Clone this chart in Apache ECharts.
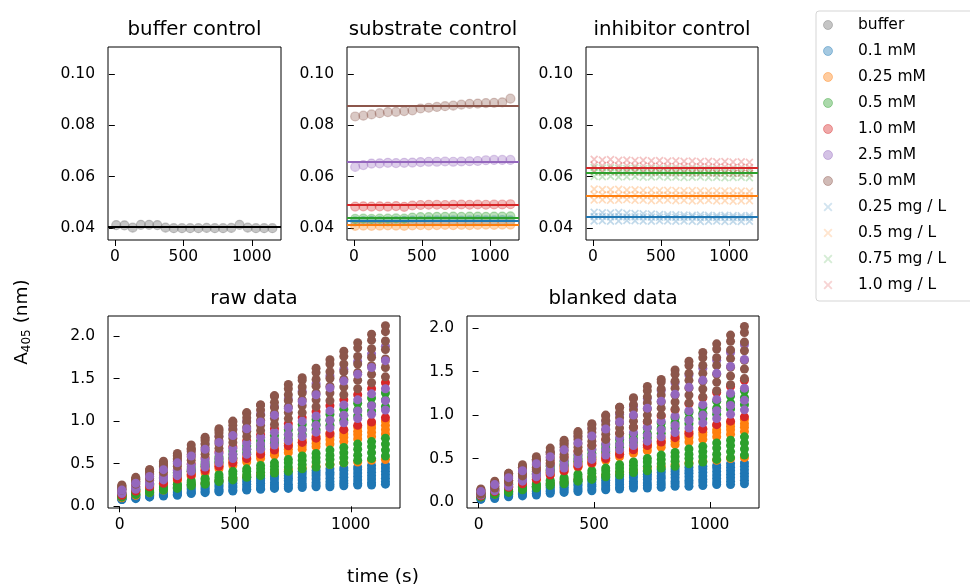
<!DOCTYPE html>
<html>
<head>
<meta charset="utf-8">
<script src="https://cdn.jsdelivr.net/npm/echarts@6/dist/echarts.min.js"></script>
<style>
  html, body { margin: 0; padding: 0; background: #fff; }
  #chart { width: 970px; height: 588px; }
</style>
</head>
<body>
<div id="chart"></div>
<script>
// ---- sampling times (s) ----
const times = [10, 70, 130, 190, 250, 310, 370, 430, 490, 550, 610, 670, 730, 790, 850, 910, 970, 1030, 1090, 1150];

// ---- tick labels ----
const xTicks = [0, 500, 1000];
const yTicksControl = [0.04, 0.06, 0.08, 0.10];
const yTicksKinetic = [0.0, 0.5, 1.0, 1.5, 2.0];

// ---- legend labels ----
const bufferLabel = 'buffer';
const substrateLabels = ['0.1 mM', '0.25 mM', '0.5 mM', '1.0 mM', '2.5 mM', '5.0 mM'];
const inhibitorLabels = ['0.25 mg / L', '0.5 mg / L', '0.75 mg / L', '1.0 mg / L'];

// ---- buffer control ----
const bufferControl = [0.0412, 0.0411, 0.0402, 0.0413, 0.0413, 0.0412, 0.0402, 0.0400, 0.0400, 0.0400, 0.0400, 0.0401, 0.0400, 0.0400, 0.0401, 0.0413, 0.0402, 0.0400, 0.0400, 0.0400];
const bufferMean = 0.0407;

// ---- substrate controls (one per substrate concentration) ----
const subCtrl01 = [0.0426, 0.0427, 0.0428, 0.0427, 0.0426, 0.0427, 0.0428, 0.0429, 0.0428, 0.0429, 0.0430, 0.0429, 0.0430, 0.0429, 0.0430, 0.0431, 0.0430, 0.0430, 0.0431, 0.0430];
const subCtrl025 = [0.0409, 0.0410, 0.0409, 0.0410, 0.0411, 0.0410, 0.0409, 0.0411, 0.0412, 0.0411, 0.0412, 0.0413, 0.0412, 0.0413, 0.0412, 0.0413, 0.0414, 0.0413, 0.0414, 0.0414];
const subCtrl05 = [0.0436, 0.0437, 0.0436, 0.0437, 0.0437, 0.0438, 0.0437, 0.0441, 0.0443, 0.0443, 0.0444, 0.0444, 0.0445, 0.0444, 0.0445, 0.0445, 0.0444, 0.0445, 0.0445, 0.0446];
const subCtrl10 = [0.0484, 0.0485, 0.0484, 0.0485, 0.0484, 0.0486, 0.0483, 0.0488, 0.0490, 0.0491, 0.0491, 0.0490, 0.0491, 0.0492, 0.0491, 0.0492, 0.0491, 0.0492, 0.0492, 0.0493];
const subCtrl25 = [0.0638, 0.0645, 0.0651, 0.0652, 0.0654, 0.0653, 0.0654, 0.0655, 0.0657, 0.0658, 0.0658, 0.0659, 0.0658, 0.0659, 0.0660, 0.0661, 0.0664, 0.0665, 0.0665, 0.0665];
const subCtrl50 = [0.0834, 0.0837, 0.0842, 0.0847, 0.0851, 0.0852, 0.0855, 0.0858, 0.0865, 0.0868, 0.0871, 0.0874, 0.0876, 0.0880, 0.0883, 0.0884, 0.0886, 0.0887, 0.0889, 0.0903];
const substrateMeans = [0.0430, 0.0413, 0.0439, 0.0490, 0.0658, 0.0877];

// ---- inhibitor controls (three replicate wells each) ----
const inhCtrl025 = [
  [0.0462, 0.0460, 0.0459, 0.0461, 0.0458, 0.0457, 0.0456, 0.0455, 0.0453, 0.0452, 0.0452, 0.0451, 0.0450, 0.0451, 0.0450, 0.0449, 0.0450, 0.0449, 0.0448, 0.0449],
  [0.0445, 0.0446, 0.0444, 0.0445, 0.0443, 0.0444, 0.0444, 0.0443, 0.0442, 0.0443, 0.0442, 0.0442, 0.0443, 0.0441, 0.0442, 0.0441, 0.0442, 0.0441, 0.0440, 0.0441],
  [0.0428, 0.0429, 0.0427, 0.0428, 0.0430, 0.0429, 0.0428, 0.0427, 0.0429, 0.0428, 0.0427, 0.0428, 0.0427, 0.0426, 0.0427, 0.0428, 0.0426, 0.0427, 0.0426, 0.0427]
];
const inhCtrl05 = [
  [0.0552, 0.0550, 0.0549, 0.0551, 0.0548, 0.0549, 0.0547, 0.0548, 0.0546, 0.0547, 0.0546, 0.0545, 0.0546, 0.0545, 0.0544, 0.0545, 0.0544, 0.0545, 0.0544, 0.0543],
  [0.0530, 0.0529, 0.0531, 0.0528, 0.0529, 0.0530, 0.0528, 0.0527, 0.0529, 0.0528, 0.0527, 0.0528, 0.0526, 0.0527, 0.0528, 0.0526, 0.0527, 0.0526, 0.0527, 0.0526],
  [0.0509, 0.0510, 0.0508, 0.0509, 0.0511, 0.0508, 0.0509, 0.0507, 0.0508, 0.0509, 0.0507, 0.0508, 0.0506, 0.0507, 0.0508, 0.0506, 0.0507, 0.0505, 0.0506, 0.0507]
];
const inhCtrl075 = [
  [0.0636, 0.0634, 0.0635, 0.0633, 0.0632, 0.0634, 0.0631, 0.0632, 0.0630, 0.0631, 0.0630, 0.0629, 0.0630, 0.0628, 0.0629, 0.0628, 0.0627, 0.0628, 0.0627, 0.0626],
  [0.0617, 0.0616, 0.0618, 0.0615, 0.0616, 0.0617, 0.0615, 0.0614, 0.0616, 0.0615, 0.0614, 0.0615, 0.0613, 0.0614, 0.0615, 0.0613, 0.0614, 0.0612, 0.0613, 0.0612],
  [0.0601, 0.0600, 0.0602, 0.0599, 0.0600, 0.0601, 0.0598, 0.0599, 0.0600, 0.0598, 0.0599, 0.0597, 0.0598, 0.0599, 0.0597, 0.0598, 0.0596, 0.0597, 0.0598, 0.0596]
];
const inhCtrl10 = [
  [0.0668, 0.0665, 0.0667, 0.0664, 0.0665, 0.0663, 0.0664, 0.0662, 0.0663, 0.0661, 0.0662, 0.0660, 0.0661, 0.0659, 0.0660, 0.0658, 0.0659, 0.0657, 0.0658, 0.0656],
  [0.0645, 0.0643, 0.0644, 0.0642, 0.0643, 0.0641, 0.0642, 0.0640, 0.0641, 0.0640, 0.0639, 0.0640, 0.0638, 0.0639, 0.0638, 0.0637, 0.0638, 0.0636, 0.0637, 0.0636],
  [0.0622, 0.0620, 0.0621, 0.0619, 0.0620, 0.0618, 0.0619, 0.0617, 0.0618, 0.0617, 0.0616, 0.0617, 0.0615, 0.0616, 0.0615, 0.0614, 0.0615, 0.0613, 0.0614, 0.0613]
];
const inhibitorMeans = [0.0443, 0.0527, 0.0615, 0.0633];

// ---- raw kinetic reads (one row per well) ----
const raw01 = [
  [0.10, 0.13, 0.16, 0.19, 0.22, 0.25, 0.27, 0.30, 0.32, 0.34, 0.36, 0.38, 0.39, 0.41, 0.42, 0.44, 0.45, 0.46, 0.48, 0.49],
  [0.10, 0.12, 0.15, 0.18, 0.21, 0.23, 0.25, 0.28, 0.30, 0.32, 0.33, 0.35, 0.36, 0.38, 0.39, 0.40, 0.42, 0.43, 0.44, 0.45],
  [0.09, 0.12, 0.14, 0.17, 0.19, 0.21, 0.23, 0.25, 0.27, 0.29, 0.30, 0.32, 0.33, 0.34, 0.36, 0.37, 0.38, 0.39, 0.40, 0.41],
  [0.09, 0.11, 0.13, 0.15, 0.17, 0.19, 0.21, 0.23, 0.24, 0.26, 0.27, 0.28, 0.30, 0.31, 0.32, 0.33, 0.34, 0.35, 0.36, 0.37],
  [0.09, 0.10, 0.12, 0.14, 0.16, 0.17, 0.19, 0.20, 0.22, 0.23, 0.24, 0.25, 0.26, 0.27, 0.28, 0.29, 0.30, 0.31, 0.32, 0.33],
  [0.08, 0.10, 0.11, 0.13, 0.14, 0.16, 0.17, 0.18, 0.19, 0.20, 0.21, 0.22, 0.23, 0.24, 0.25, 0.26, 0.27, 0.27, 0.28, 0.29],
  [0.08, 0.09, 0.11, 0.12, 0.13, 0.15, 0.16, 0.17, 0.18, 0.19, 0.20, 0.21, 0.21, 0.22, 0.23, 0.23, 0.24, 0.25, 0.25, 0.26]
];
const raw025 = [
  [0.13, 0.19, 0.25, 0.30, 0.36, 0.41, 0.46, 0.51, 0.56, 0.61, 0.66, 0.70, 0.74, 0.78, 0.82, 0.86, 0.89, 0.93, 0.96, 1.00],
  [0.13, 0.18, 0.24, 0.29, 0.34, 0.39, 0.44, 0.49, 0.54, 0.58, 0.63, 0.67, 0.71, 0.75, 0.78, 0.82, 0.85, 0.88, 0.92, 0.95],
  [0.12, 0.17, 0.22, 0.27, 0.32, 0.37, 0.42, 0.46, 0.51, 0.55, 0.59, 0.63, 0.67, 0.71, 0.74, 0.78, 0.81, 0.84, 0.87, 0.90],
  [0.12, 0.17, 0.21, 0.26, 0.30, 0.35, 0.39, 0.44, 0.48, 0.52, 0.56, 0.60, 0.63, 0.67, 0.70, 0.73, 0.76, 0.79, 0.82, 0.85],
  [0.10, 0.13, 0.16, 0.19, 0.22, 0.25, 0.27, 0.30, 0.33, 0.35, 0.38, 0.40, 0.43, 0.45, 0.47, 0.49, 0.51, 0.52, 0.54, 0.55]
];
const raw05 = [
  [0.15, 0.21, 0.27, 0.34, 0.40, 0.46, 0.52, 0.58, 0.65, 0.71, 0.77, 0.83, 0.90, 0.96, 1.02, 1.08, 1.14, 1.21, 1.27, 1.33],
  [0.14, 0.20, 0.26, 0.32, 0.38, 0.43, 0.49, 0.55, 0.61, 0.67, 0.72, 0.78, 0.84, 0.90, 0.96, 1.01, 1.07, 1.13, 1.19, 1.25],
  [0.14, 0.19, 0.25, 0.30, 0.36, 0.41, 0.47, 0.52, 0.57, 0.63, 0.68, 0.74, 0.79, 0.84, 0.90, 0.95, 1.01, 1.06, 1.12, 1.17],
  [0.12, 0.16, 0.19, 0.23, 0.26, 0.30, 0.33, 0.37, 0.41, 0.44, 0.48, 0.51, 0.55, 0.59, 0.62, 0.66, 0.69, 0.73, 0.76, 0.80],
  [0.12, 0.15, 0.18, 0.22, 0.25, 0.28, 0.31, 0.34, 0.38, 0.41, 0.44, 0.47, 0.51, 0.54, 0.57, 0.60, 0.63, 0.67, 0.70, 0.73],
  [0.11, 0.14, 0.17, 0.20, 0.23, 0.26, 0.28, 0.31, 0.34, 0.37, 0.40, 0.43, 0.46, 0.49, 0.52, 0.55, 0.57, 0.60, 0.63, 0.66],
  [0.11, 0.14, 0.16, 0.19, 0.21, 0.24, 0.26, 0.29, 0.31, 0.34, 0.36, 0.39, 0.41, 0.44, 0.46, 0.49, 0.51, 0.54, 0.56, 0.59]
];
const raw10 = [
  [0.16, 0.23, 0.30, 0.36, 0.43, 0.50, 0.57, 0.64, 0.70, 0.77, 0.84, 0.91, 0.97, 1.04, 1.11, 1.18, 1.25, 1.31, 1.38, 1.45],
  [0.13, 0.18, 0.23, 0.27, 0.32, 0.37, 0.42, 0.47, 0.51, 0.56, 0.61, 0.66, 0.71, 0.75, 0.80, 0.85, 0.90, 0.95, 0.99, 1.04]
];
// last 2.5 mM row is the well that sits inside the 5.0 mM band
const raw25 = [
  [0.20, 0.29, 0.38, 0.47, 0.55, 0.64, 0.73, 0.82, 0.91, 1.00, 1.08, 1.17, 1.26, 1.35, 1.44, 1.53, 1.61, 1.70, 1.79, 1.88],
  [0.17, 0.23, 0.30, 0.36, 0.42, 0.49, 0.55, 0.62, 0.68, 0.74, 0.81, 0.87, 0.93, 1.00, 1.06, 1.12, 1.19, 1.25, 1.32, 1.38],
  [0.16, 0.22, 0.27, 0.33, 0.39, 0.44, 0.50, 0.56, 0.61, 0.67, 0.73, 0.78, 0.84, 0.90, 0.95, 1.01, 1.07, 1.12, 1.18, 1.24],
  [0.15, 0.20, 0.25, 0.31, 0.36, 0.41, 0.46, 0.51, 0.56, 0.61, 0.67, 0.72, 0.77, 0.82, 0.87, 0.92, 0.98, 1.03, 1.08, 1.13],
  [0.19, 0.27, 0.35, 0.43, 0.51, 0.59, 0.67, 0.75, 0.83, 0.91, 0.99, 1.07, 1.15, 1.23, 1.31, 1.39, 1.47, 1.55, 1.63, 1.71]
];
const raw50 = [
  [0.25, 0.32, 0.43, 0.50, 0.59, 0.67, 0.79, 0.89, 0.99, 1.09, 1.19, 1.30, 1.43, 1.51, 1.62, 1.72, 1.82, 1.92, 2.02, 2.12],
  [0.24, 0.34, 0.43, 0.53, 0.62, 0.72, 0.81, 0.91, 1.00, 1.10, 1.19, 1.29, 1.38, 1.48, 1.57, 1.67, 1.76, 1.86, 1.95, 2.05],
  [0.23, 0.32, 0.41, 0.50, 0.59, 0.68, 0.77, 0.86, 0.95, 1.04, 1.13, 1.22, 1.31, 1.40, 1.49, 1.58, 1.67, 1.76, 1.85, 1.94],
  [0.22, 0.31, 0.39, 0.48, 0.56, 0.65, 0.73, 0.82, 0.90, 0.99, 1.07, 1.16, 1.24, 1.33, 1.41, 1.50, 1.58, 1.67, 1.75, 1.84],
  [0.21, 0.29, 0.37, 0.45, 0.53, 0.61, 0.69, 0.77, 0.85, 0.93, 1.01, 1.09, 1.17, 1.25, 1.33, 1.41, 1.49, 1.57, 1.65, 1.73],
  [0.20, 0.28, 0.35, 0.43, 0.50, 0.58, 0.65, 0.73, 0.80, 0.88, 0.95, 1.03, 1.10, 1.18, 1.25, 1.33, 1.40, 1.48, 1.55, 1.63],
  [0.19, 0.26, 0.33, 0.40, 0.47, 0.54, 0.61, 0.68, 0.75, 0.82, 0.89, 0.96, 1.03, 1.10, 1.17, 1.24, 1.31, 1.38, 1.45, 1.52]
];

// ---- blank-corrected kinetic reads (same wells) ----
const blk01 = [
  [0.06, 0.09, 0.12, 0.15, 0.18, 0.21, 0.23, 0.26, 0.28, 0.30, 0.32, 0.34, 0.35, 0.37, 0.38, 0.40, 0.41, 0.42, 0.44, 0.45],
  [0.06, 0.08, 0.11, 0.14, 0.17, 0.19, 0.21, 0.24, 0.26, 0.28, 0.29, 0.31, 0.32, 0.34, 0.35, 0.36, 0.38, 0.39, 0.40, 0.41],
  [0.05, 0.08, 0.10, 0.13, 0.15, 0.17, 0.19, 0.21, 0.23, 0.25, 0.26, 0.28, 0.29, 0.30, 0.32, 0.33, 0.34, 0.35, 0.36, 0.37],
  [0.05, 0.07, 0.09, 0.11, 0.13, 0.15, 0.17, 0.19, 0.20, 0.22, 0.23, 0.24, 0.26, 0.27, 0.28, 0.29, 0.30, 0.31, 0.32, 0.33],
  [0.05, 0.06, 0.08, 0.10, 0.12, 0.13, 0.15, 0.16, 0.18, 0.19, 0.20, 0.21, 0.22, 0.23, 0.24, 0.25, 0.26, 0.27, 0.28, 0.29],
  [0.04, 0.06, 0.07, 0.09, 0.10, 0.12, 0.13, 0.14, 0.15, 0.16, 0.17, 0.18, 0.19, 0.20, 0.21, 0.22, 0.23, 0.23, 0.24, 0.25],
  [0.03, 0.04, 0.06, 0.07, 0.08, 0.10, 0.11, 0.12, 0.13, 0.14, 0.15, 0.16, 0.16, 0.17, 0.18, 0.18, 0.19, 0.20, 0.20, 0.21]
];
const blk025 = [
  [0.08, 0.14, 0.20, 0.25, 0.31, 0.36, 0.41, 0.46, 0.51, 0.56, 0.61, 0.65, 0.69, 0.73, 0.77, 0.81, 0.84, 0.88, 0.91, 0.95],
  [0.08, 0.13, 0.19, 0.24, 0.29, 0.34, 0.39, 0.44, 0.49, 0.53, 0.58, 0.62, 0.66, 0.70, 0.73, 0.77, 0.80, 0.83, 0.87, 0.90],
  [0.08, 0.13, 0.18, 0.23, 0.28, 0.33, 0.38, 0.42, 0.47, 0.51, 0.55, 0.59, 0.63, 0.67, 0.70, 0.74, 0.77, 0.80, 0.83, 0.86],
  [0.08, 0.13, 0.17, 0.22, 0.26, 0.31, 0.35, 0.40, 0.44, 0.48, 0.52, 0.56, 0.59, 0.63, 0.66, 0.69, 0.72, 0.75, 0.78, 0.81],
  [0.06, 0.09, 0.12, 0.15, 0.18, 0.21, 0.23, 0.26, 0.29, 0.31, 0.34, 0.36, 0.39, 0.41, 0.43, 0.45, 0.47, 0.48, 0.50, 0.51]
];
const blk05 = [
  [0.10, 0.16, 0.22, 0.29, 0.35, 0.41, 0.47, 0.53, 0.60, 0.66, 0.72, 0.78, 0.85, 0.91, 0.97, 1.03, 1.09, 1.16, 1.22, 1.28],
  [0.09, 0.15, 0.21, 0.27, 0.33, 0.38, 0.44, 0.50, 0.56, 0.62, 0.67, 0.73, 0.79, 0.85, 0.91, 0.96, 1.02, 1.08, 1.14, 1.20],
  [0.09, 0.14, 0.20, 0.25, 0.31, 0.36, 0.42, 0.47, 0.52, 0.58, 0.63, 0.69, 0.74, 0.79, 0.85, 0.90, 0.96, 1.01, 1.07, 1.12],
  [0.07, 0.11, 0.14, 0.18, 0.21, 0.25, 0.28, 0.32, 0.36, 0.39, 0.43, 0.46, 0.50, 0.54, 0.57, 0.61, 0.64, 0.68, 0.71, 0.75],
  [0.07, 0.10, 0.13, 0.17, 0.20, 0.23, 0.26, 0.29, 0.33, 0.36, 0.39, 0.42, 0.46, 0.49, 0.52, 0.55, 0.58, 0.62, 0.65, 0.68],
  [0.06, 0.09, 0.12, 0.15, 0.18, 0.21, 0.23, 0.26, 0.29, 0.32, 0.35, 0.38, 0.41, 0.44, 0.47, 0.50, 0.52, 0.55, 0.58, 0.61],
  [0.06, 0.09, 0.11, 0.14, 0.16, 0.19, 0.21, 0.24, 0.26, 0.29, 0.31, 0.34, 0.36, 0.39, 0.41, 0.44, 0.46, 0.49, 0.51, 0.54]
];
const blk10 = [
  [0.11, 0.18, 0.25, 0.31, 0.38, 0.45, 0.52, 0.59, 0.65, 0.72, 0.79, 0.86, 0.92, 0.99, 1.06, 1.13, 1.20, 1.26, 1.33, 1.40],
  [0.07, 0.12, 0.17, 0.21, 0.26, 0.31, 0.36, 0.41, 0.45, 0.50, 0.55, 0.60, 0.65, 0.69, 0.74, 0.79, 0.84, 0.89, 0.93, 0.98]
];
const blk25 = [
  [0.13, 0.22, 0.31, 0.40, 0.48, 0.57, 0.66, 0.75, 0.84, 0.93, 1.01, 1.10, 1.19, 1.28, 1.37, 1.46, 1.54, 1.63, 1.72, 1.81],
  [0.10, 0.16, 0.23, 0.29, 0.35, 0.42, 0.48, 0.55, 0.61, 0.67, 0.74, 0.80, 0.86, 0.93, 0.99, 1.05, 1.12, 1.18, 1.25, 1.31],
  [0.09, 0.15, 0.20, 0.26, 0.32, 0.37, 0.43, 0.49, 0.54, 0.60, 0.66, 0.71, 0.77, 0.83, 0.88, 0.94, 1.00, 1.05, 1.11, 1.17],
  [0.08, 0.13, 0.18, 0.24, 0.29, 0.34, 0.39, 0.44, 0.49, 0.54, 0.60, 0.65, 0.70, 0.75, 0.80, 0.85, 0.91, 0.96, 1.01, 1.06],
  [0.12, 0.20, 0.28, 0.36, 0.44, 0.52, 0.60, 0.68, 0.76, 0.84, 0.92, 1.00, 1.08, 1.16, 1.24, 1.32, 1.40, 1.48, 1.56, 1.64]
];
const blk50 = [
  [0.15, 0.22, 0.33, 0.40, 0.49, 0.57, 0.69, 0.79, 0.89, 0.99, 1.09, 1.20, 1.33, 1.41, 1.52, 1.62, 1.72, 1.82, 1.92, 2.02],
  [0.14, 0.24, 0.33, 0.43, 0.52, 0.62, 0.71, 0.81, 0.90, 1.00, 1.09, 1.19, 1.28, 1.38, 1.47, 1.57, 1.66, 1.76, 1.85, 1.95],
  [0.13, 0.22, 0.31, 0.40, 0.49, 0.58, 0.67, 0.76, 0.85, 0.94, 1.03, 1.12, 1.21, 1.30, 1.39, 1.48, 1.57, 1.66, 1.75, 1.84],
  [0.12, 0.21, 0.29, 0.38, 0.46, 0.55, 0.63, 0.72, 0.80, 0.89, 0.97, 1.06, 1.14, 1.23, 1.31, 1.40, 1.48, 1.57, 1.65, 1.74],
  [0.11, 0.19, 0.27, 0.35, 0.43, 0.51, 0.59, 0.67, 0.75, 0.83, 0.91, 0.99, 1.07, 1.15, 1.23, 1.31, 1.39, 1.47, 1.55, 1.63],
  [0.10, 0.18, 0.25, 0.33, 0.40, 0.48, 0.55, 0.63, 0.70, 0.78, 0.85, 0.93, 1.00, 1.08, 1.15, 1.23, 1.30, 1.38, 1.45, 1.53],
  [0.09, 0.16, 0.23, 0.30, 0.37, 0.44, 0.51, 0.58, 0.65, 0.72, 0.79, 0.86, 0.93, 1.00, 1.07, 1.14, 1.21, 1.28, 1.35, 1.42]
];

// ---------------------------------------------------------------------------
const FONT = 'DejaVu Sans';
const TAB = {
  blue: '#1f77b4', orange: '#ff7f0e', green: '#2ca02c', red: '#d62728',
  purple: '#9467bd', brown: '#8c564b', gray: '#7f7f7f'
};
const substrateColors = [TAB.blue, TAB.orange, TAB.green, TAB.red, TAB.purple, TAB.brown];
const inhibitorColors = [TAB.blue, TAB.orange, TAB.green, TAB.red];
const X_MARK = 'path://M0,1.5L1.5,0L5,3.5L8.5,0L10,1.5L6.5,5L10,8.5L8.5,10L5,6.5L1.5,10L0,8.5L3.5,5Z';

function rgba(hex, a) {
  const n = parseInt(hex.slice(1), 16);
  return 'rgba(' + (n >> 16 & 255) + ',' + (n >> 8 & 255) + ',' + (n & 255) + ',' + a + ')';
}
function pairs(values) {
  return times.map((t, i) => [t, values[i]]);
}

// panel frames
const frames = [
  { left: 108, top: 47, width: 173, height: 193 },
  { left: 347, top: 47, width: 172, height: 193 },
  { left: 586, top: 47, width: 172, height: 193 },
  { left: 108, top: 316, width: 292, height: 192 },
  { left: 467, top: 316, width: 292, height: 192 }
];
const grid = frames.map(f => Object.assign({
  show: true, borderColor: '#000', borderWidth: 1, backgroundColor: 'transparent',
  containLabel: false, outerBoundsMode: 'none'
}, f));

const tickStyle = { show: true, length: 6, inside: false, lineStyle: { color: '#000', width: 1 } };
const labelStyle = { color: '#000', fontFamily: FONT, fontSize: 15.5 };

function xAxisFor(gi) {
  return {
    type: 'value', gridIndex: gi, min: -50, max: 1213,
    splitLine: { show: false }, axisLine: { show: false },
    axisTick: Object.assign({ customValues: xTicks }, tickStyle),
    axisLabel: Object.assign({ customValues: xTicks, margin: 9, formatter: v => String(v) }, labelStyle)
  };
}
function yAxisFor(gi, min, max, ticks, digits) {
  return {
    type: 'value', gridIndex: gi, min: min, max: max,
    splitLine: { show: false }, axisLine: { show: false },
    axisTick: Object.assign({ customValues: ticks }, tickStyle),
    axisLabel: Object.assign({ customValues: ticks, margin: 13, formatter: v => v.toFixed(digits) }, labelStyle)
  };
}

const xAxis = [0, 1, 2, 3, 4].map(xAxisFor);
const yAxis = [
  yAxisFor(0, 0.0354, 0.1104, yTicksControl, 2),
  yAxisFor(1, 0.0354, 0.1104, yTicksControl, 2),
  yAxisFor(2, 0.0354, 0.1104, yTicksControl, 2),
  yAxisFor(3, -0.02, 2.234, yTicksKinetic, 1),
  yAxisFor(4, -0.069, 2.14, yTicksKinetic, 1)
];

// horizontal mean line across a whole panel
function meanLine(value, color) {
  return {
    silent: true, symbol: ['none', 'none'], z: 5, animation: false, precision: 6,
    label: { show: false }, emphasis: { disabled: true },
    lineStyle: { type: 'solid', width: 2, color: color, opacity: 1 },
    data: [{ yAxis: value }]
  };
}
function circleSeries(gi, name, values, color, alpha, line, lineColor) {
  const s = {
    type: 'scatter', name: name, xAxisIndex: gi, yAxisIndex: gi,
    data: pairs(values), symbol: 'circle', symbolSize: 9, silent: true,
    itemStyle: { color: rgba(color, alpha), borderColor: rgba(color, alpha), borderWidth: 1.2, opacity: 1 },
    emphasis: { disabled: true }
  };
  if (line !== undefined) s.markLine = meanLine(line, lineColor);
  return s;
}
function crossSeries(gi, name, values, color, line) {
  const s = {
    type: 'scatter', name: name, xAxisIndex: gi, yAxisIndex: gi,
    data: pairs(values), symbol: X_MARK, symbolSize: 8, silent: true,
    itemStyle: { color: rgba(color, 0.28), opacity: 1 },
    emphasis: { disabled: true }
  };
  if (line !== undefined) s.markLine = meanLine(line, color);
  return s;
}
function dotSeries(gi, name, values, color) {
  return {
    type: 'scatter', name: name, xAxisIndex: gi, yAxisIndex: gi,
    data: pairs(values), symbol: 'circle', symbolSize: 9, silent: true,
    itemStyle: { color: color, opacity: 1 }, emphasis: { disabled: true }
  };
}

const series = [];
// buffer control
series.push(circleSeries(0, bufferLabel, bufferControl, TAB.gray, 0.45, bufferMean, '#000'));
// substrate controls
const subCtrl = [subCtrl01, subCtrl025, subCtrl05, subCtrl10, subCtrl25, subCtrl50];
subCtrl.forEach((vals, i) => {
  series.push(circleSeries(1, substrateLabels[i], vals, substrateColors[i], 0.32, substrateMeans[i], substrateColors[i]));
});
// inhibitor controls
const inhCtrl = [inhCtrl025, inhCtrl05, inhCtrl075, inhCtrl10];
inhCtrl.forEach((reps, j) => {
  reps.forEach((vals, r) => {
    series.push(crossSeries(2, inhibitorLabels[j], vals, inhibitorColors[j], r === 0 ? inhibitorMeans[j] : undefined));
  });
});
// kinetic panels: [concentration index, first row, last row] in painting order
const paintOrder = [[0, 0, 6], [1, 0, 4], [2, 0, 6], [3, 0, 1], [4, 0, 3], [5, 0, 6], [4, 4, 4]];
const rawSets = [raw01, raw025, raw05, raw10, raw25, raw50];
const blkSets = [blk01, blk025, blk05, blk10, blk25, blk50];
[[3, rawSets], [4, blkSets]].forEach(([gi, sets]) => {
  paintOrder.forEach(([k, r0, r1]) => {
    for (let r = r0; r <= r1; r++) {
      series.push(dotSeries(gi, substrateLabels[k], sets[k][r], substrateColors[k]));
    }
  });
});

// legend entries
const legendData = [{
  name: bufferLabel, icon: 'circle',
  itemStyle: { color: rgba(TAB.gray, 0.45), borderColor: rgba(TAB.gray, 0.45), borderWidth: 1, opacity: 1 }
}].concat(substrateLabels.map((n, i) => ({
  name: n, icon: 'circle',
  itemStyle: { color: rgba(substrateColors[i], 0.4), borderColor: rgba(substrateColors[i], 0.4), borderWidth: 1, opacity: 1 }
}))).concat(inhibitorLabels.map((n, j) => ({
  name: n, icon: X_MARK,
  itemStyle: { color: rgba(inhibitorColors[j], 0.2), borderWidth: 0, opacity: 1 }
})));

function textEl(text, x, y, size) {
  return {
    type: 'text', x: x, y: y, silent: true,
    style: { text: text, fontFamily: FONT, fontSize: size, fill: '#000', align: 'center', verticalAlign: 'middle' }
  };
}

const option = {
  animation: false,
  backgroundColor: '#fff',
  textStyle: { fontFamily: FONT },
  grid: grid,
  xAxis: xAxis,
  yAxis: yAxis,
  legend: {
    orient: 'vertical', left: 816, top: 11,
    padding: [6, 60, 8, 7],
    itemWidth: 30, itemHeight: 9, itemGap: 10,
    borderColor: '#d5d5d5', borderWidth: 1, borderRadius: 3,
    backgroundColor: 'rgba(255,255,255,0.8)',
    selectedMode: false,
    formatter: name => '{gap|}' + name,
    textStyle: {
      fontFamily: FONT, fontSize: 15.5, color: '#000', lineHeight: 16,
      rich: { gap: { width: 10 } }
    },
    data: legendData
  },
  graphic: [
    textEl('buffer control', 194.5, 30, 19.8),
    textEl('substrate control', 433, 30, 19.8),
    textEl('inhibitor control', 672, 30, 19.8),
    textEl('raw data', 254, 299, 19.8),
    textEl('blanked data', 613, 299, 19.8),
    textEl('time (s)', 383, 577, 18.5),
    {
      type: 'text', x: 22, y: 322, rotation: Math.PI / 2, silent: true,
      style: {
        text: '{a|A}{s|405}{a| (nm)}',
        align: 'center', verticalAlign: 'middle', fill: '#000',
        rich: {
          a: { fontFamily: FONT, fontSize: 18.5, fill: '#000', lineHeight: 22 },
          s: { fontFamily: FONT, fontSize: 12, fill: '#000', lineHeight: 12, verticalAlign: 'bottom' }
        }
      }
    }
  ],
  series: series
};

const chart = echarts.init(document.getElementById('chart'), null, { renderer: 'canvas' });
chart.setOption(option);
</script>
</body>
</html>
